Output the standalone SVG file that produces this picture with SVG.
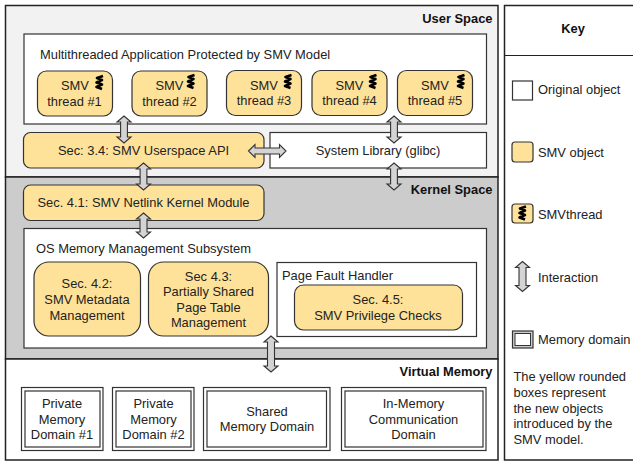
<svg xmlns="http://www.w3.org/2000/svg" width="633" height="462" viewBox="0 0 633 462">
<style>
text{font-family:"Liberation Sans",Arial,sans-serif;font-size:12.9px;fill:#222}
.c{text-anchor:middle}
.b{font-weight:bold;fill:#111}
.r{text-anchor:end}
.box{fill:#fff;stroke:#333;stroke-width:1.2}
.y{fill:#ffe299;stroke:#333;stroke-width:1.2}
.sec{stroke:#222;stroke-width:1.5}
.arr{fill:#d4d4d4;stroke:#333;stroke-width:1.1;stroke-linejoin:miter}
.sq{fill:none;stroke:#000;stroke-width:2.6;stroke-linejoin:round}
</style>
<defs>
<path id="sq" class="sq" d="M3.5 0 L-2.5 2 L2.5 4 L-3 6.5 L2.5 8.5 L-3 11 L2.5 13"/>
<path id="av" class="arr" d="M0 0 L7 6 L3.4 6 L3.4 21 L7 21 L0 27 L-7 21 L-3.4 21 L-3.4 6 L-7 6 Z"/>
</defs>
<g id="user-space"><rect class="sec" fill="#f2f2f2" x="5.500" y="5.500" width="492.500" height="171.500"/><text class="b r" x="492.500" y="23">User Space</text></g>
<g id="kernel-space"><rect class="sec" fill="#ccc" x="5.500" y="177" width="492.500" height="182"/><text class="b r" x="492.500" y="194">Kernel Space</text></g>
<g id="virtual-memory"><rect class="sec" fill="#fff" x="5.500" y="359" width="492.500" height="101"/><text class="b r" x="492.500" y="376">Virtual Memory</text></g>
<g id="app"><rect class="box" x="24" y="34" width="462.500" height="90"/><text x="40" y="59">Multithreaded Application Protected by SMV Model</text></g>
<g id="thread1"><rect class="y" x="37.500" y="71" width="75" height="45" rx="9"/><text x="61" y="90">SMV</text><text class="c" x="74.500" y="106">thread #1</text><use href="#sq" x="99.500" y="76"/></g>
<g id="thread2"><rect class="y" x="132" y="71" width="75" height="45" rx="9"/><text x="155.500" y="90">SMV</text><text class="c" x="169.500" y="106">thread #2</text><use href="#sq" x="191" y="75"/></g>
<g id="thread3"><rect class="y" x="226.500" y="70.500" width="75" height="45" rx="9"/><text x="250" y="90">SMV</text><text class="c" x="264" y="105">thread #3</text><use href="#sq" x="288" y="75"/></g>
<g id="thread4"><rect class="y" x="312" y="70.500" width="75" height="45" rx="9"/><text x="335.500" y="90">SMV</text><text class="c" x="349.500" y="105">thread #4</text><use href="#sq" x="373" y="75"/></g>
<g id="thread5"><rect class="y" x="397.500" y="70.500" width="75" height="45" rx="9"/><text x="421" y="90">SMV</text><text class="c" x="435" y="105">thread #5</text><use href="#sq" x="461" y="75"/></g>
<g id="api"><rect class="y" x="23.500" y="132.500" width="240.500" height="35.500" rx="7"/><text class="c" x="143.500" y="155">Sec: 3.4: SMV Userspace API</text></g>
<g id="glibc"><rect class="box" x="270" y="132.500" width="216.500" height="35.500"/><text class="c" x="378" y="155">System Library (glibc)</text></g>
<g id="netlink"><rect class="y" x="23.500" y="185" width="240.500" height="35.500" rx="7"/><text class="c" x="143.500" y="207">Sec. 4.1: SMV Netlink Kernel Module</text></g>
<g id="os"><rect class="box" x="24" y="228.500" width="462.500" height="119.500"/><text x="36" y="253">OS Memory Management Subsystem</text></g>
<g id="metadata"><rect class="y" x="34" y="262" width="106.500" height="74" rx="15"/><text class="c" x="87" y="288">Sec. 4.2:</text><text class="c" x="87" y="304">SMV Metadata</text><text class="c" x="87" y="320">Management</text></g>
<g id="pagetable"><rect class="y" x="148.500" y="262" width="120" height="74" rx="15"/><text class="c" x="208.500" y="281">Sec 4.3:</text><text class="c" x="208.500" y="296">Partially Shared</text><text class="c" x="208.500" y="312">Page Table</text><text class="c" x="208.500" y="327">Management</text></g>
<g id="pagefault"><rect class="box" x="277" y="262.500" width="199.500" height="74"/><text x="282" y="280">Page Fault Handler</text></g>
<g id="privilege"><rect class="y" x="294.500" y="285" width="168" height="45" rx="9"/><text class="c" x="378" y="304">Sec. 4.5:</text><text class="c" x="378" y="320">SMV Privilege Checks</text></g>
<g id="domain1"><rect class="box" x="21.500" y="387.500" width="81.500" height="63"/><rect class="box" x="25" y="391" width="75" height="56"/><text class="c" x="62" y="408">Private</text><text class="c" x="62" y="424">Memory</text><text class="c" x="62" y="439">Domain #1</text></g>
<g id="domain2"><rect class="box" x="112.500" y="387.500" width="81.500" height="63"/><rect class="box" x="116" y="391" width="75" height="56"/><text class="c" x="153.500" y="408">Private</text><text class="c" x="153.500" y="424">Memory</text><text class="c" x="153.500" y="439">Domain #2</text></g>
<g id="domain3"><rect class="box" x="203.500" y="387.500" width="126.500" height="63"/><rect class="box" x="207" y="391" width="119.500" height="56"/><text class="c" x="267" y="416">Shared</text><text class="c" x="267" y="431">Memory Domain</text></g>
<g id="domain4"><rect class="box" x="341.500" y="387.500" width="144.500" height="63"/><rect class="box" x="345" y="391" width="138" height="56"/><text class="c" x="413.500" y="408">In-Memory</text><text class="c" x="413.500" y="424">Communication</text><text class="c" x="413.500" y="439">Domain</text></g>
<g id="connectors">
<use href="#av" x="124" y="116"/>
<use href="#av" x="143.500" y="163"/>
<path class="arr" d="M143.500 213 L150.500 219 L147 219 L147 232 L150.500 232 L143.500 238 L136.500 232 L140 232 L140 219 L136.500 219 Z"/>
<use href="#av" x="394" y="116"/>
<use href="#av" x="394" y="163"/>
<path class="arr" d="M271 336 L278 342 L274.500 342 L274.500 366 L278 366 L271 372 L264 366 L267.500 366 L267.500 342 L264 342 Z"/>
<path class="arr" d="M248.500 151 L255 144.500 L255 148 L279.500 148 L279.500 144.500 L286 151 L279.500 157.500 L279.500 154 L255 154 L255 157.500 Z"/>
</g>
<g id="key"><rect x="504.500" y="5.500" width="140" height="454.500" fill="#fff" stroke="#222" stroke-width="1.500"/><path d="M504.500 55.500H633" stroke="#222" stroke-width="1.200"/><text class="b c" x="573" y="33">Key</text></g>
<g id="key-original"><rect class="box" x="512.500" y="81" width="20" height="19"/><text x="538" y="94">Original object</text></g>
<g id="key-smv"><rect class="y" x="512" y="142" width="21" height="20" rx="3"/><text x="538" y="157">SMV object</text></g>
<g id="key-thread"><rect class="y" x="512" y="204" width="21" height="19" rx="3"/><use href="#sq" x="522.500" y="206.500"/><text x="538" y="219">SMVthread</text></g>
<g id="key-interaction"><path class="arr" d="M522.500 261.500 L529.500 267.500 L526 267.500 L526 285.500 L529.500 285.500 L522.500 291.500 L515.500 285.500 L519 285.500 L519 267.500 L515.500 267.500 Z"/><text x="538" y="282">Interaction</text></g>
<g id="key-domain"><rect x="512.500" y="331" width="20.500" height="17" fill="#ccc" stroke="#333" stroke-width="1.200"/><rect x="515" y="333.500" width="15.500" height="12" fill="#fff" stroke="#333" stroke-width="1"/><text x="538" y="344">Memory domain</text></g>
<g id="key-note"><text x="513.500" y="381">The yellow rounded</text><text x="513.500" y="397">boxes represent</text><text x="513.500" y="413">the new objects</text><text x="513.500" y="428">introduced by the</text><text x="513.500" y="444">SMV model.</text></g>
</svg>
